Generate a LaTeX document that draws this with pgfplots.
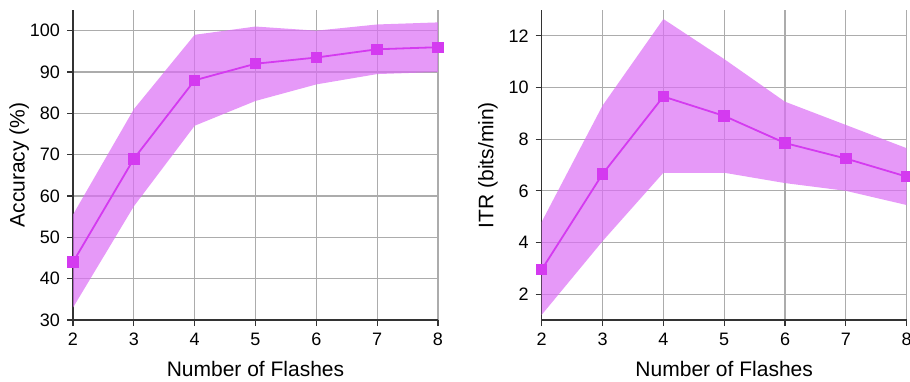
\documentclass[border=0pt]{standalone}
\usepackage{pgfplots}
\pgfplotsset{compat=1.18}
\usepackage{fontspec}
\setmainfont{Liberation Sans}
\definecolor{bandfill}{RGB}{220,110,245}
\definecolor{linecol}{RGB}{212,58,240}
\definecolor{gridcol}{RGB}{172,172,172}
\pgfplotsset{
  myaxis/.style={
    scale only axis,
    width=182.5pt, height=155pt,
    xmin=2, xmax=8,
    xtick={2,3,4,5,6,7,8},
    axis x line=bottom, axis y line=left,
    axis line style={-, black!80, line width=0.7pt},
    tick style={black!80, line width=0.6pt},
    tick align=outside,
    major tick length=3pt,
    grid=major,
    major grid style={gridcol, line width=0.6pt},
    tick label style={font=\fontsize{9}{11}\selectfont},
    label style={font=\fontsize{10.5}{12}\selectfont},
    /pgf/number format/assume math mode=true,
    xlabel={Number of Flashes},
    xlabel style={yshift=-1pt},
    ylabel style={at={(axis description cs:0,0.5)}, anchor=south, yshift=18.5pt},
    clip=false,
  },
  mean/.style={linecol, line width=0.9pt, mark=square*, mark size=2.4pt, mark options={fill=linecol, draw=linecol}},
  band/.style={draw=none, fill=bandfill, fill opacity=0.7},
}
\begin{document}
\begin{tikzpicture}
\useasboundingbox (-36.5pt,-30.5pt) rectangle (418.5pt,160pt);
\begin{axis}[myaxis, at={(0,0)}, anchor=south west,
  ymin=30, ymax=105, ytick={30,40,50,60,70,80,90,100},
  ylabel={Accuracy (\%)}]
  \addplot[band] coordinates {
    (2,55.5) (3,81) (4,99) (5,101) (6,100) (7,101.5) (8,102)
    (8,90) (7,89.5) (6,87) (5,83) (4,77) (3,57.5) (2,33) } -- cycle;
  \addplot[mean] coordinates {
    (2,44) (3,69) (4,88) (5,92) (6,93.5) (7,95.5) (8,96) };
\end{axis}
\begin{axis}[myaxis, at={(234.35pt,0)}, anchor=south west,
  ymin=1, ymax=13, ytick={2,4,6,8,10,12},
  ylabel={ITR (bits/min)}]
  \addplot[band] coordinates {
    (2,4.8) (3,9.3) (4,12.65) (5,11.1) (6,9.45) (7,8.55) (8,7.65)
    (8,5.45) (7,6.0) (6,6.3) (5,6.7) (4,6.7) (3,4.05) (2,1.2) } -- cycle;
  \addplot[mean] coordinates {
    (2,2.95) (3,6.65) (4,9.65) (5,8.9) (6,7.85) (7,7.25) (8,6.55) };
\end{axis}
\end{tikzpicture}
\end{document}
